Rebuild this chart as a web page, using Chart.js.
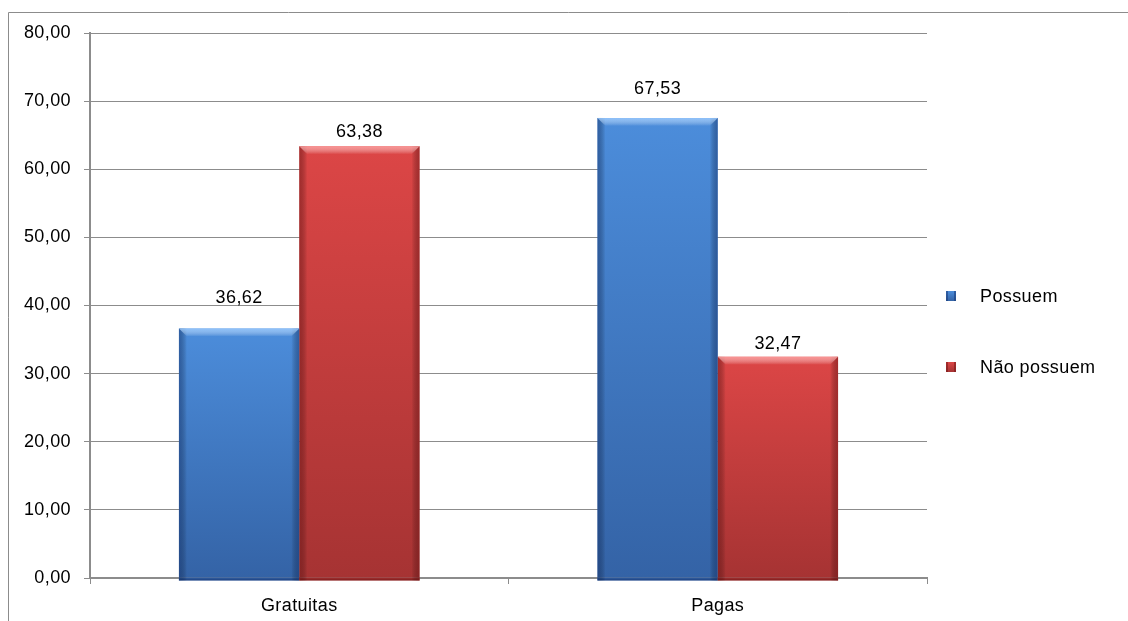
<!DOCTYPE html>
<html>
<head>
<meta charset="utf-8">
<style>
  html, body { margin: 0; padding: 0; background: #ffffff; }
  #wrap { width: 1128px; height: 621px; position: relative; }
</style>
<script src="https://cdn.jsdelivr.net/npm/chart.js@4.4.1/dist/chart.umd.min.js"></script>
</head>
<body>
<div id="wrap"><canvas id="chart" width="1128" height="621"></canvas></div>
<script>
// Categories and series
const categories = ['Gratuitas', 'Pagas'];
const possuem = [36.62, 67.53];
const naoPossuem = [63.38, 32.47];
const seriesNames = ['Possuem', 'Não possuem'];

// Axis range
const yMin = 0;
const yMax = 80;
const yStep = 10;

// Gap in px between each value label and the top of its bar, per series
const labelGaps = [[26, 24], [9, 8]];

const FONT = "'Liberation Sans', Arial, sans-serif";
const FONT_SIZE = 18;
const GRID = '#8c8c8c';

// Colour ramps for each series: top, bottom, edge shade, highlight
const palettes = [
  { top: '#4c8ddb', bottom: '#3463a6', edge: 'rgba(20,50,110,0.5)', hi: 'rgba(150,200,255,0.85)' },
  { top: '#dc4646', bottom: '#a63333', edge: 'rgba(110,20,20,0.5)', hi: 'rgba(255,160,160,0.85)' }
];

const fmt = v => v.toFixed(2).replace('.', ',');

function barFill(idx) {
  return function (ctx) {
    const chart = ctx.chart;
    const ys = chart.scales && chart.scales.y;
    if (!ys || typeof ctx.raw !== 'number') return palettes[idx].top;
    const top = ys.getPixelForValue(ctx.raw);
    const base = ys.getPixelForValue(0);
    if (!isFinite(top) || !isFinite(base) || top === base) return palettes[idx].top;
    const g = chart.ctx.createLinearGradient(0, top, 0, base);
    g.addColorStop(0, palettes[idx].top);
    g.addColorStop(1, palettes[idx].bottom);
    return g;
  };
}

// Slightly wider text, like the original rendering
const textSpacing = {
  id: 'textSpacing',
  beforeUpdate(chart) { chart.ctx.letterSpacing = '0.4px'; },
  beforeDraw(chart) { chart.ctx.letterSpacing = '0.4px'; }
};

// Bevel shading on the sides and top of each bar
const bevel = {
  id: 'bevel',
  afterDatasetsDraw(chart) {
    const c = chart.ctx;
    chart.data.datasets.forEach((ds, di) => {
      const meta = chart.getDatasetMeta(di);
      const pal = palettes[di];
      meta.data.forEach(el => {
        const { x, y, base, width } = el.getProps(['x', 'y', 'base', 'width'], true);
        if (![x, y, base, width].every(isFinite)) return;
        const l = x - width / 2, r = x + width / 2;
        c.save();
        // bottom depth below the axis
        c.fillStyle = pal.bottom;
        c.fillRect(l, base, width, 3);
        c.fillStyle = pal.edge;
        c.fillRect(l, base + 1, width, 2);
        // left edge
        let g = c.createLinearGradient(l, 0, l + 8, 0);
        g.addColorStop(0, pal.edge);
        g.addColorStop(1, 'rgba(0,0,0,0)');
        c.fillStyle = g;
        c.fillRect(l, y, 8, base + 3 - y);
        // right edge
        g = c.createLinearGradient(r, 0, r - 8, 0);
        g.addColorStop(0, pal.edge);
        g.addColorStop(1, 'rgba(0,0,0,0)');
        c.fillStyle = g;
        c.fillRect(r - 8, y, 8, base + 3 - y);
        // top highlight
        g = c.createLinearGradient(0, y, 0, y + 8);
        g.addColorStop(0, pal.hi);
        g.addColorStop(1, 'rgba(255,255,255,0)');
        c.fillStyle = g;
        c.beginPath();
        c.moveTo(l, y);
        c.lineTo(r, y);
        c.lineTo(r - 8, y + 8);
        c.lineTo(l + 8, y + 8);
        c.closePath();
        c.fill();
        c.restore();
      });
    });
  }
};

// Value labels above each bar
const valueLabels = {
  id: 'valueLabels',
  afterDatasetsDraw(chart) {
    const c = chart.ctx;
    c.save();
    c.font = FONT_SIZE + 'px ' + FONT;
    c.fillStyle = '#000000';
    c.textAlign = 'center';
    c.textBaseline = 'alphabetic';
    chart.data.datasets.forEach((ds, di) => {
      chart.getDatasetMeta(di).data.forEach((el, i) => {
        const { x, y } = el.getProps(['x', 'y'], true);
        c.fillText(fmt(ds.data[i]), x, y - labelGaps[di][i]);
      });
    });
    c.restore();
  }
};

// Outer frame of the chart object
const frame = {
  id: 'frame',
  beforeDraw(chart) {
    const c = chart.ctx;
    c.save();
    c.strokeStyle = '#8c8c8c';
    c.lineWidth = 1;
    c.beginPath();
    c.moveTo(8.5, chart.height + 5);
    c.lineTo(8.5, 12.5);
    c.lineTo(chart.width + 5, 12.5);
    c.stroke();
    c.restore();
  }
};

// Legend on the right
const sideLegend = {
  id: 'sideLegend',
  afterDraw(chart) {
    const c = chart.ctx;
    const rows = [296, 367];
    c.save();
    c.font = FONT_SIZE + 'px ' + FONT;
    c.textBaseline = 'middle';
    c.textAlign = 'left';
    chart.data.datasets.forEach((ds, di) => {
      const pal = palettes[di];
      const cy = rows[di];
      const bx = 946, by = cy - 5;
      const g = c.createLinearGradient(0, by, 0, by + 10);
      g.addColorStop(0, pal.top);
      g.addColorStop(1, pal.bottom);
      c.fillStyle = g;
      c.fillRect(bx, by, 10, 10);
      c.fillStyle = pal.edge;
      c.fillRect(bx, by, 2, 10);
      c.fillRect(bx + 8, by, 2, 10);
      c.fillStyle = '#000000';
      c.fillText(ds.label, 980, cy + 1);
    });
    c.restore();
  }
};

new Chart(document.getElementById('chart'), {
  type: 'bar',
  data: {
    labels: categories,
    datasets: [
      { label: seriesNames[0], data: possuem, backgroundColor: barFill(0), borderWidth: 0 },
      { label: seriesNames[1], data: naoPossuem, backgroundColor: barFill(1), borderWidth: 0 }
    ]
  },
  options: {
    responsive: false,
    animation: false,
    devicePixelRatio: 1,
    layout: { padding: { left: 0, top: 33, right: 201, bottom: 0 } },
    datasets: { bar: { categoryPercentage: 0.575, barPercentage: 1.0 } },
    plugins: {
      legend: { display: false },
      tooltip: { enabled: false }
    },
    scales: {
      x: {
        offset: true,
        afterFit(s) { s.height = 43; },
        grid: {
          offset: true,
          drawOnChartArea: false,
          drawTicks: true,
          tickLength: 6,
          color: GRID,
          lineWidth: 1
        },
        border: { display: true, color: GRID, width: 2 },
        ticks: { color: '#000000', font: { family: FONT, size: FONT_SIZE }, padding: 11 }
      },
      y: {
        min: yMin,
        max: yMax,
        afterFit(s) { s.width = 90; },
        grid: { color: GRID, lineWidth: 1, tickLength: 6 },
        border: { display: true, color: GRID, width: 2 },
        ticks: {
          stepSize: yStep,
          color: '#000000',
          font: { family: FONT, size: FONT_SIZE },
          padding: 13,
          callback: v => fmt(v)
        }
      }
    }
  },
  plugins: [textSpacing, frame, bevel, valueLabels, sideLegend]
});
</script>
</body>
</html>
